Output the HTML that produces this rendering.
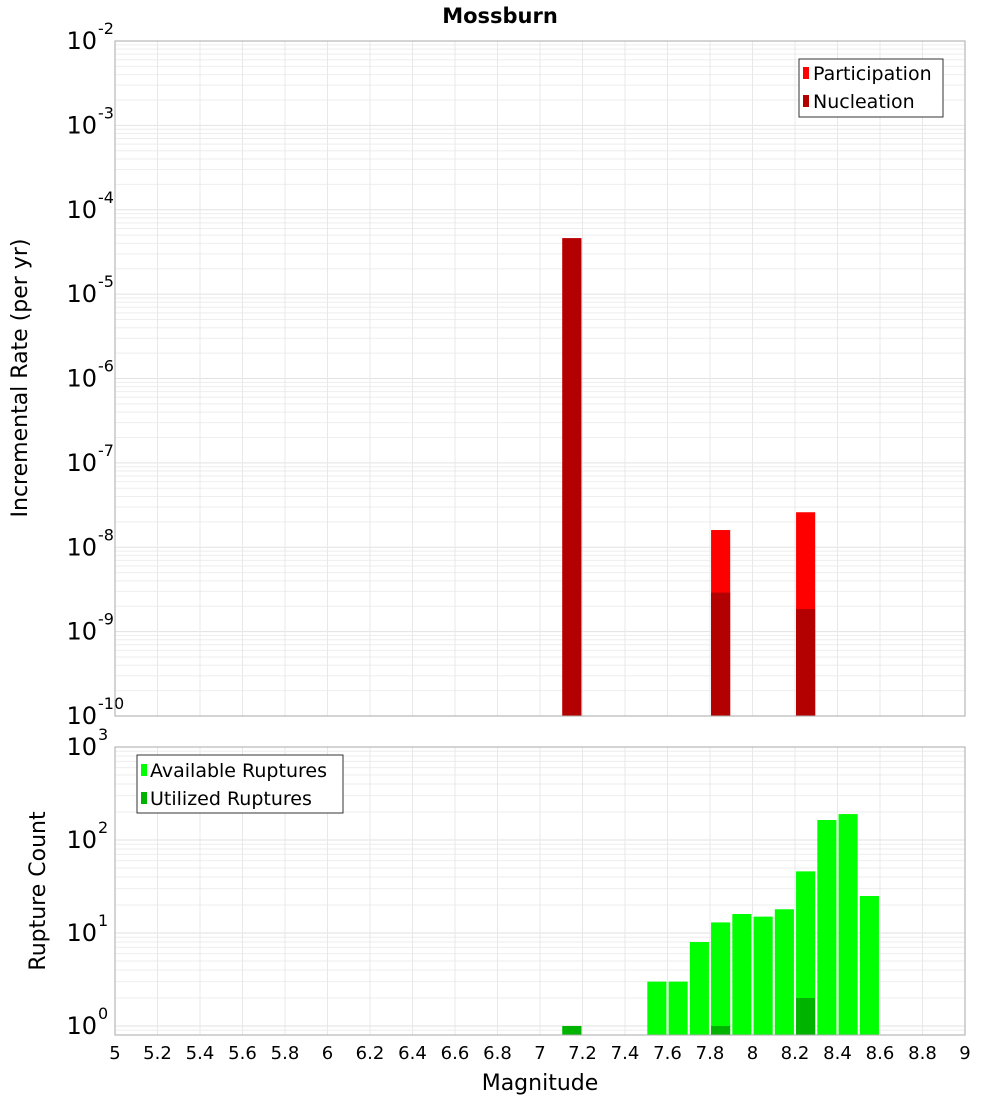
<!DOCTYPE html>
<html><head><meta charset="utf-8"><style>
body{margin:0;background:#fff;font-family:"DejaVu Sans","Liberation Sans",sans-serif;}
svg text{font-family:"DejaVu Sans","Liberation Sans",sans-serif;}
</style></head><body>
<svg id="c" width="1000" height="1100" xmlns="http://www.w3.org/2000/svg">
<text x="500" y="23" text-anchor="middle" font-size="21" font-weight="bold">Mossburn</text>
<text transform="translate(27,378) rotate(-90)" text-anchor="middle" font-size="22">Incremental Rate (per yr)</text>
<text transform="translate(45,891) rotate(-90)" text-anchor="middle" font-size="22">Rupture Count</text>
<text x="540" y="1090" text-anchor="middle" font-size="22">Magnitude</text>
<g id="gtop"></g><g id="gbot"></g><g id="xt"></g>
<g>
<rect x="799" y="59" width="144" height="58" fill="#fff" stroke="#333"/>
<rect x="803" y="67" width="6" height="12" fill="#ff0000"/>
<text x="813" y="80" font-size="19">Participation</text>
<rect x="803" y="95" width="6" height="12" fill="#b30000"/>
<text x="813" y="108" font-size="19">Nucleation</text>
</g>
<g>
<rect x="137" y="755" width="206" height="58" fill="#fff" stroke="#333"/>
<rect x="141" y="764" width="6" height="12" fill="#00ff00"/>
<text x="150" y="777" font-size="19">Available Ruptures</text>
<rect x="141" y="792" width="6" height="12" fill="#00b300"/>
<text x="150" y="805" font-size="19">Utilized Ruptures</text>
</g>
</svg>
<script>
const bins=[7.15,7.55,7.65,7.75,7.85,7.95,8.05,8.15,8.25,8.35,8.45,8.55];
const available=[1,3,3,8,13,16,15,18,46,164,190,25];
const utilized=[1,0,0,0,1,0,0,0,2,0,0,0];
const rateBins=[7.15,7.85,8.25];
const participation=[4.6e-5,1.6e-8,2.6e-8];
const nucleation=[4.6e-5,2.9e-9,1.85e-9];
const xTicks=["5","5.2","5.4","5.6","5.8","6","6.2","6.4","6.6","6.8","7","7.2","7.4","7.6","7.8","8","8.2","8.4","8.6","8.8","9"];
const NS="http://www.w3.org/2000/svg";
const X0=115,X1=965;
const xs=m=>X0+(m-5)/4*(X1-X0);
const yT=v=>716-(Math.log10(v)+10)*84.375;
const yB=v=>1026-Math.log10(v)*93;
function mk(p,t,a){const e=document.createElementNS(NS,t);for(const k in a)e.setAttribute(k,a[k]);p.appendChild(e);return e;}
const gTop=document.getElementById('gtop'),gBot=document.getElementById('gbot'),gXt=document.getElementById('xt');
function grid(g,yf,yTop,yBot,lo,hi){
 for(let d=lo;d<hi;d++)for(let k=1;k<10;k++){const v=k*Math.pow(10,d);const yy=yf(v);if(yy<yTop||yy>yBot)continue;
  const l=mk(g,'line',{x1:X0,x2:X1,y1:yy,y2:yy,stroke:k==1?'#e2e2e2':'#eeeeee','stroke-width':1});
  
  }
 for(let i=0;i<xTicks.length;i++){const xx=xs(+xTicks[i]);const l=mk(g,'line',{x1:xx,x2:xx,y1:yTop,y2:yBot,stroke:'#e8e8e8'});
  
  }
}
grid(gTop,yT,41,716,-10,-2);
grid(gBot,yB,747,1035,-1,3);
function exp(g,xx,yy,e,name){const t=mk(g,'text',{x:xx,y:yy,'font-size':24,'text-anchor':'end'});t.textContent='10';
 
 
 const s=mk(g,'text',{x:xx+1,y:yy-15,'font-size':16});s.textContent=e;
 
 }
for(let d=-10;d<=-2;d++)exp(gTop,97,yT(Math.pow(10,d))+8,String(d),'top-y-tick');
for(let d=0;d<=3;d++)exp(gBot,97,yB(Math.pow(10,d))+8,String(d),'bottom-y-tick');
const bw=xs(5.095)-xs(5.005);
rateBins.forEach((m,i)=>{
 const r=mk(gTop,'rect',{x:xs(m-0.045),y:yT(participation[i]),width:bw,height:716-yT(participation[i]),fill:'#ff0000'});
 
 
 const n=mk(gTop,'rect',{x:xs(m-0.045),y:yT(nucleation[i]),width:bw,height:716-yT(nucleation[i]),fill:'#b30000'});
 
 
});
bins.forEach((m,i)=>{
 if(available[i]>0){const r=mk(gBot,'rect',{x:xs(m-0.045),y:yB(available[i]),width:bw,height:1035-yB(available[i]),fill:'#00ff00'});
 
 }
 if(utilized[i]>0){const n=mk(gBot,'rect',{x:xs(m-0.045),y:yB(utilized[i]),width:bw,height:1035-yB(utilized[i]),fill:'#00b300'});
 
 }
});
const f1=mk(gTop,'rect',{x:X0,y:41,width:X1-X0,height:675,fill:'none',stroke:'#aaa'});


const f2=mk(gBot,'rect',{x:X0,y:747,width:X1-X0,height:288,fill:'none',stroke:'#aaa'});


xTicks.forEach(t=>{const e=mk(gXt,'text',{x:xs(+t),y:1059,'font-size':18,'text-anchor':'middle'});e.textContent=t;
 
 });
</script>
</body></html>
